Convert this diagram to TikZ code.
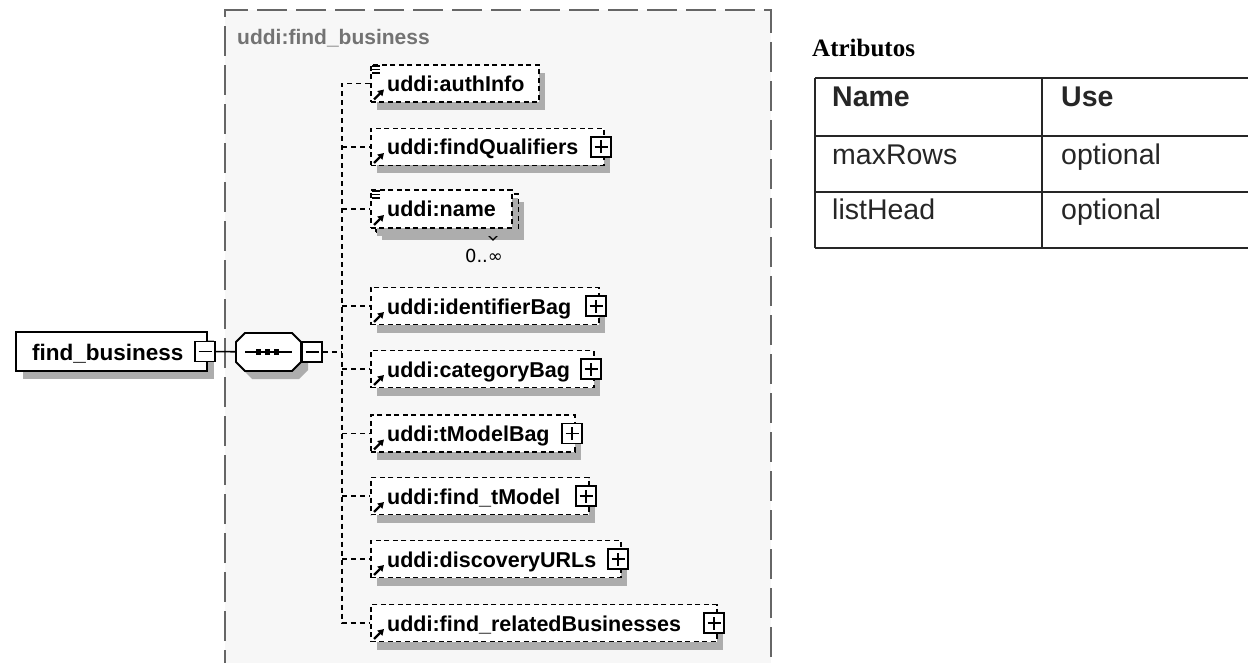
\documentclass[tikz,border=0pt]{standalone}
\usepackage{fontspec}
\setmainfont{Liberation Sans}
\newfontfamily\djv{DejaVu Sans}
\newfontfamily\serifb{Liberation Serif}
\usetikzlibrary{shadows,calc,arrows.meta}

\tikzset{
  lbl/.style={font=\fontsize{21.5}{26}\selectfont\bfseries, inner sep=0pt, anchor=base west},
  boxshadow/.style={drop shadow={shadow xshift=6pt, shadow yshift=-8pt, fill=black!32, opacity=1}},
  elembox/.style={draw, dash pattern=on 5pt off 3.5pt, line width=1.9pt, fill=white,
    minimum height=37pt, inner sep=0pt, anchor=west, boxshadow},
  pmbox/.style={draw, solid, line width=1.6pt, fill=white, minimum size=20pt, inner sep=0pt},
  plusbox/.style={pmbox, path picture={
      \draw[line width=1.5pt]
        ([xshift=-6.5pt]path picture bounding box.center) -- ([xshift=6.5pt]path picture bounding box.center)
        ([yshift=-6.5pt]path picture bounding box.center) -- ([yshift=6.5pt]path picture bounding box.center);}},
  minusbox/.style={pmbox, path picture={
      \draw[line width=1.5pt]
        ([xshift=-6.5pt]path picture bounding box.center) -- ([xshift=6.5pt]path picture bounding box.center);}},
  conn/.style={draw, dash pattern=on 5pt off 4pt, line width=1.8pt},
  refarrow/.style={line width=2.2pt, -{Triangle[length=6pt,width=7pt]}},
  frame/.style={draw=black!60, line width=1.5pt, dash pattern=on 30pt off 9pt},
  tline/.style={line width=1.8pt, black!85},
  tcell/.style={font=\fontsize{28.5}{33}\selectfont, text=black!85, inner sep=0pt, anchor=base west},
}

% element box: name, centre y, right x, label
\newcommand\elem[4]{%
  \node[elembox, minimum width={#3-370}] (#1) at (370,#2) {};
  \node[lbl] (#1l) at (387,#2+8) {#4};
  \draw[refarrow] ($(#1.west)+(4,16)$) -- ++(10,-10);
}
\newcommand\elemplus[4]{%
  \elem{#1}{#2}{#3}{#4}
  \node[plusbox] (#1p) at (#3-2,#2) {};
}
% simple-content marker in the upper left corner
\newcommand\textmark[1]{%
  \draw[line width=1.4pt] ($(#1.north west)+(2,2)$) -- ++(8,0)
    ($(#1.north west)+(2,5.5)$) -- ++(8,0) ($(#1.north west)+(2,9)$) -- ++(8,0);
}

\begin{document}
\begin{tikzpicture}[x=1pt, y=-1pt]
\useasboundingbox (0,0) rectangle (1248,663);
\clip (0,0) rectangle (1248,663);
\fill[white] (0,0) rectangle (1248,663);

% complex type frame
\fill[black!3] (225,10) rectangle (771,680);
\draw[frame] (225,680) -- (225,10) -- (771,10) -- (771,680);
\node[font=\fontsize{21}{25}\selectfont\bfseries, text=black!55, inner sep=0pt, anchor=base west] (ctitle) at (237,45) {uddi:find\_business};

% root element
\node[draw, solid, line width=1.9pt, fill=white, minimum width=191pt, minimum height=39pt,
      inner sep=0pt, anchor=west, drop shadow={shadow xshift=7pt, shadow yshift=-8pt, fill=black!32, opacity=1}]
      (root) at (15,351.5) {};
\node[lbl, font=\fontsize{22.5}{26}\selectfont\bfseries] (rootl) at (32,360) {find\_business};
\node[minusbox] (rootm) at (205,351.5) {};

% sequence compositor
\node[inner sep=0pt, minimum width=65pt, minimum height=38pt] (seq) at (268.5,352) {};
\fill[black!32, shift={(7,8)}] (245,333) -- (292,333) -- (301,342) -- (301,362) -- (292,371) -- (245,371) -- (236,362) -- (236,342) -- cycle;
\filldraw[fill=white, line width=1.9pt] (245,333) -- (292,333) -- (301,342) -- (301,362) -- (292,371) -- (245,371) -- (236,362) -- (236,342) -- cycle;
\draw[line width=1.6pt] (245,352) -- (292,352);
\fill (255.5,349) rectangle (261,355);
\fill (264.5,349) rectangle (270,355);
\fill (273.5,349) rectangle (279,355);
\node[minusbox] (seqm) at (312,352) {};
\draw[line width=1.6pt] (rootm) -- (seq);

% child elements
\elem{authinfo}{83.5}{538}{uddi:authInfo}
\textmark{authinfo}
\elemplus{findq}{147}{603}{uddi:findQualifiers}

% repeated element: stacked boxes with occurrence tab
\node[elembox, minimum width=142pt, minimum height=38pt] (nameback) at (375,213) {};
\draw[line width=1.4pt] (485,232) -- (493,240) -- (501,232);
\node[elembox, minimum width=141pt, minimum height=38pt, drop shadow={opacity=0}] (name) at (370,209) {};
\node[lbl] (namel) at (387,217) {uddi:name};
\draw[refarrow] ($(name.west)+(4,16)$) -- ++(10,-10);
\textmark{name}
\node[font=\djv\fontsize{18}{21}\selectfont, inner sep=0pt] (nameocc) at (484,256) {0..∞};

\elemplus{identbag}{306}{598}{uddi:identifierBag}
\elemplus{catbag}{369}{593}{uddi:categoryBag}
\elemplus{tmbag}{433.5}{574}{uddi:tModelBag}
\elemplus{findtm}{496}{588}{uddi:find\_tModel}
\elemplus{discurl}{559}{620}{uddi:discoveryURLs}
\elemplus{findrel}{623}{716}{uddi:find\_relatedBusinesses}

% sequence connectors
\coordinate (sp) at (342,352);
\draw[conn] (seqm.east) -- (sp);
\draw[conn] (authinfo.west) -- (authinfo.west -| sp) -- (findrel.west -| sp) -- (findrel.west);
\foreach \c in {findq,name,identbag,catbag,tmbag,findtm,discurl}
  \draw[conn] (\c.west -| sp) -- (\c.west);

% attribute table
\node[font=\serifb\fontsize{25}{29}\selectfont\bfseries, inner sep=0pt, anchor=base west] (attrt) at (812,57) {Atributos};
\draw[tline] (815,78) -- (1250,78) (815,136) -- (1250,136) (815,192) -- (1250,192) (815,248) -- (1250,248);
\draw[tline] (815,78) -- (815,248) (1042,78) -- (1042,248);
\node[tcell, font=\fontsize{28.5}{33}\selectfont\bfseries] (hname) at (832,107) {Name};
\node[tcell, font=\fontsize{28.5}{33}\selectfont\bfseries] (huse) at (1061,107) {Use};
\node[tcell] (r1n) at (832,165) {maxRows};
\node[tcell] (r1u) at (1061,165) {optional};
\node[tcell] (r2n) at (832,220) {listHead};
\node[tcell] (r2u) at (1061,220) {optional};
\end{tikzpicture}
\end{document}
